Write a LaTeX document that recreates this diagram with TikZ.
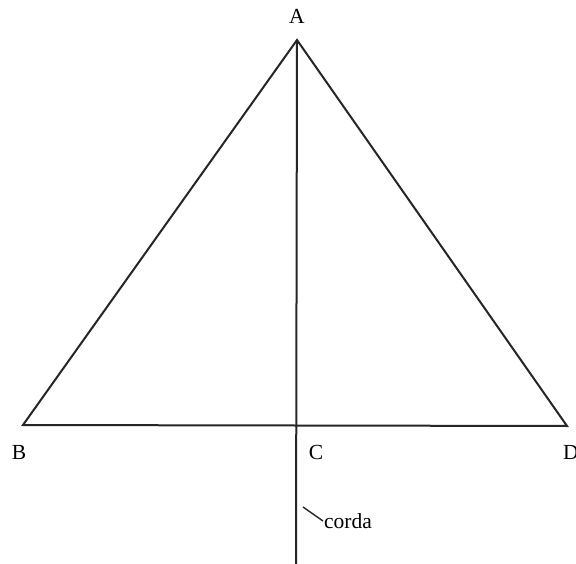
\documentclass[tikz,border=0pt]{standalone}
\usepackage{fontspec}
\setmainfont{Liberation Serif}
\begin{document}
\begin{tikzpicture}[x=1pt,y=-1pt,
  edge/.style={line width=2pt, black!85},
  lbl/.style={font=\fontsize{21.5}{24}\selectfont, inner sep=0pt}]
\useasboundingbox[fill=white] (0,0) rectangle (576,564);
\coordinate (A) at (297,40);
\coordinate (B) at (23,425);
\coordinate (D) at (567,426);
\coordinate (C) at (296,426);
\coordinate (E) at (296,564);
\draw[edge, line join=miter] (B) -- (A) -- (D) -- cycle;
\draw[edge] (A) -- (E);
\node[lbl] (lA) at (297,16) {A};
\node[lbl] (lB) at (19,452) {B};
\node[lbl] (lC) at (316,452) {C};
\node[lbl, anchor=west] (lD) at (563,452) {D};
\node[lbl, anchor=west] (lcorda) at (324,521) {corda};
\coordinate (t1) at (303,507);
\draw[line width=1.4pt, black!85] (t1) -- ([xshift=-1pt]lcorda.west);
\end{tikzpicture}
\end{document}
